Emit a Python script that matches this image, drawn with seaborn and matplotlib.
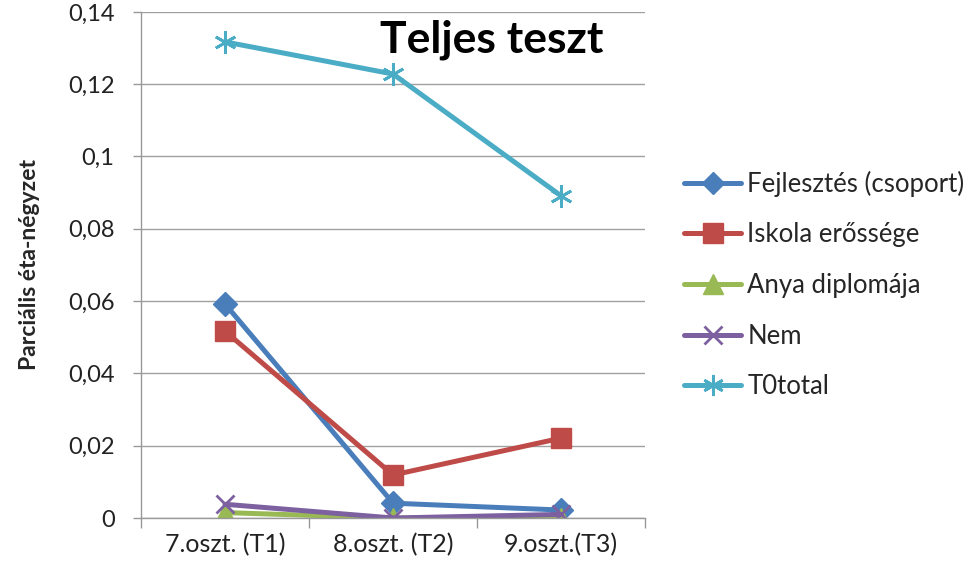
import matplotlib
matplotlib.use("Agg")
import matplotlib.pyplot as plt
import seaborn as sns
import pandas as pd
from matplotlib.ticker import FixedLocator, FuncFormatter

categories = ["7.oszt. (T1)", "8.oszt. (T2)", "9.oszt.(T3)"]
series_names = ["Fejlesztés (csoport)", "Iskola erőssége", "Anya diplomája", "Nem", "T0total"]
fejlesztes = [0.0592, 0.0041, 0.0022]
iskola = [0.0517, 0.0119, 0.0221]
anya = [0.0015, 0.0, 0.0]
nem = [0.0038, 0.0, 0.0010]
t0total = [0.1317, 0.1228, 0.0891]
yticks = [0, 0.02, 0.04, 0.06, 0.08, 0.1, 0.12, 0.14]

values = [fejlesztes, iskola, anya, nem, t0total]
rows = []
for name, vals in zip(series_names, values):
    for i, (c, v) in enumerate(zip(categories, vals)):
        rows.append({"pos": i, "cat": c, "series": name, "value": v})
df = pd.DataFrame(rows)

sns.set_theme(style="white")
plt.rcParams['font.family'] = ['Lato', 'DejaVu Sans']

colors = ["#4A7EBB", "#BE4B48", "#98B954", "#7D60A0", "#4BACC6"]
markers = ["D", "s", "^", "x", (6, 2, 0)]
msizes = [12, 15, 15, 13, 16]

fig = plt.figure(figsize=(9.79, 5.70), dpi=100)
ax = fig.add_axes([0.144, 0.0912, 0.515, 0.888])

for name, col, mk, ms in zip(series_names, colors, markers, msizes):
    sub = df[df["series"] == name]
    sns.lineplot(data=sub, x="pos", y="value", ax=ax, color=col, linewidth=3.6,
                 marker=mk, markersize=ms, markeredgecolor=col,
                 markeredgewidth=2 if mk in ("x", (6, 2, 0)) else 1,
                 label=name, sort=False)

ax.set_xlim(-0.5, 2.5)
ax.set_ylim(0, 0.14)
ax.set_xticks(range(len(categories)))
ax.set_xticklabels(categories, fontsize=18, color="#222222")
ax.xaxis.set_minor_locator(FixedLocator([-0.5, 0.5, 1.5, 2.5]))
ax.tick_params(axis="x", which="major", length=0, pad=11)
ax.tick_params(axis="x", which="minor", length=7, width=1, color="#999999", direction="out", bottom=True)
ax.set_yticks(yticks)
ax.yaxis.set_major_formatter(FuncFormatter(lambda v, p: ("%g" % round(v, 2)).replace(".", ",")))
ax.tick_params(axis="y", labelsize=17, length=6, width=1, color="#999999", direction="out",
               left=True, pad=13, labelcolor="#222222")
ax.grid(axis="y", color="#A0A0A0", linewidth=1)
ax.set_axisbelow(True)
for s in ["top", "right"]:
    ax.spines[s].set_visible(False)
for s in ["left", "bottom"]:
    ax.spines[s].set_color("#999999")
    ax.spines[s].set_linewidth(1)
ax.set_xlabel("")
ax.set_ylabel("Parciális éta-négyzet", fontsize=16.5, fontweight="bold")
ax.yaxis.set_label_coords(-0.2, 0.5)

ax.text(0.695, 0.945, "Teljes teszt", transform=ax.transAxes, fontsize=32,
        fontweight="bold", ha="center", va="center", color="black")

handles, labels = ax.get_legend_handles_labels()
ax.legend(handles, labels, loc="upper left", bbox_to_anchor=(0.699, 0.701),
          bbox_transform=fig.transFigure, frameon=False, fontsize=18.5,
          handlelength=2.2, handletextpad=0.25, labelspacing=1.0, markerscale=0.95,
          borderpad=0, borderaxespad=0)

fig.savefig("out.png", dpi=100)
